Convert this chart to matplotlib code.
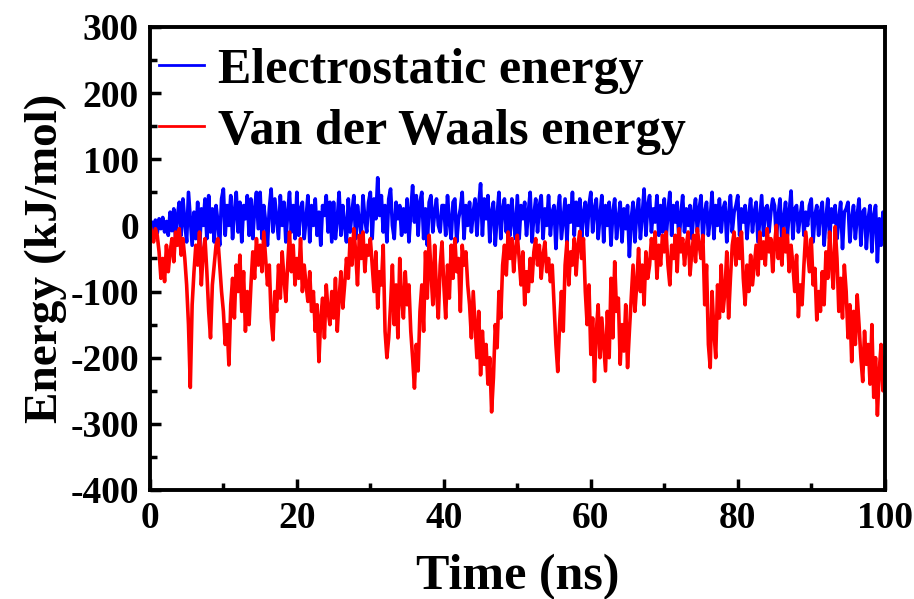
import numpy as np
import matplotlib
matplotlib.use("Agg")
import matplotlib.pyplot as plt
from matplotlib.ticker import MultipleLocator

electrostatic = [
    0, 5, -8, 8, -12, 10, -5, 12, -10, 6, -15, 20, -8, 25, -20, 15, 35, -15, 40, 5,
    -25, 50, 10, -30, 20, -20, 35, -40, 25, 0, 40, -20, 45, -10, 25, -25, 30, 5, -30, 40,
    55, -15, 30, 0, 45, -20, 20, 50, -10, 35, -25, 30, 10, 45, -15, 40, -20, 25, 50, -5,
    50, -20, 30, 5, -30, 25, 55, -10, 40, 10, -20, 45, 0, 35, -25, 20, 50, -10, 30, -20,
    50, -15, 25, 35, -20, 10, 45, -25, 30, 0, 40, -15, 20, -30, 30, 15, 45, -10, 35, -25,
    35, -20, 10, 50, -15, 30, 0, -25, 40, -10, 20, 45, -20, 30, 5, -15, 45, 10, -10, 35,
    50, -20, 40, 10, 72, 15, 45, -10, 30, -25, 40, 55, 0, -20, 35, 10, 30, -15, 25, -10,
    40, -25, 20, 60, 5, 45, -15, 35, 50, -20, 25, -30, 35, 45, -10, 20, 40, 0, -10, 30,
    30, -15, 45, 5, -20, 35, 40, -25, 10, 25, 50, -20, 30, 0, 35, -10, 20, 40, -15, 30,
    63, -15, 40, 10, 45, -25, 20, 35, -30, 15, 50, -20, 25, 40, -10, 30, -15, 40, 5, -20,
    45, -20, 30, 10, 35, -15, 20, 50, -25, 15, 40, -10, 30, 45, -20, 25, 0, 45, -15, 20,
    30, -35, 20, 45, -20, 10, 40, -25, 30, 5, 50, -15, 35, 0, 40, -20, 20, 35, -15, 30,
    50, -10, 25, 40, -20, 15, 45, -25, 30, 0, 35, -30, 20, 40, -20, 10, 35, -25, 25, -5,
    30, -47, 10, 35, -25, 20, 40, -20, 15, 55, -15, 30, 45, -10, 25, 5, 45, -15, 30, -10,
    40, -20, 20, 50, -15, 30, 5, 35, -25, 15, 45, -10, 25, 0, 30, -20, 20, 40, -10, 25,
    45, -25, 20, 35, -15, 10, 50, -20, 30, 0, 40, -10, 25, 35, -25, 15, 45, -10, 20, 30,
    45, -15, 25, 5, 30, -20, 15, 40, -10, 20, 35, -25, 10, 45, -15, 25, 30, -10, 20, 40,
    30, -20, 15, 40, -25, 10, 35, -15, 20, 52, -20, 25, 30, -10, 15, 35, -15, 20, 0, 30,
    40, -25, 15, 30, -15, 20, 35, -30, 10, 40, -20, 25, 5, 30, -20, 10, 35, -35, 20, 25,
    35, -25, 10, 30, -20, 15, 40, -30, 20, 25, -35, 10, 30, -40, 15, 30, -55, 10, -30, 20,
    -20,
]

vdw = [
    0, -10, -25, -5, -15, -40, -80, -50, -85, -30, -70, -40, -20, -55, -10, -30, -5, -45, -20, -50,
    -90, -150, -245, -120, -70, -30, -60, -10, -90, -40, -20, -70, -130, -170, -90, -60, -30, -20, -60, -100,
    -130, -180, -150, -211, -120, -80, -140, -60, -100, -45, -130, -70, -160, -100, -150, -90, -40, -80, -20, -60,
    -30, -70, -10, -50, -90, -60, -140, -173, -100, -130, -60, -110, -40, -80, -115, -60, -10, -70, -30, -90,
    -50, -80, -20, -100, -60, -90, -115, -70, -130, -100, -160, -120, -206, -140, -110, -170, -90, -130, -150, -100,
    -140, -80, -160, -110, -70, -125, -90, -50, -80, -20, -60, -5, -40, -90, -15, -50, -10, -70, -30, -45,
    -20, -60, -100, -40, -125, -70, -90, -30, -160, -200, -170, -120, -60, -150, -90, -170, -50, -110, -140, -70,
    -120, -90, -160, -200, -246, -180, -220, -130, -90, -160, -40, -110, -15, -70, -120, -30, -100, -140, -60, -25,
    -90, -140, -60, -110, -30, -80, -20, -70, -50, -130, -30, -60, -40, -90, -120, -170, -100, -150, -200, -130,
    -226, -160, -210, -180, -240, -200, -282, -230, -150, -185, -100, -140, -60, -30, -75, -10, -50, -20, -70, -35,
    -15, -50, -90, -40, -120, -70, -100, -50, -85, -40, -20, -60, -30, -80, -45, -25, -70, -50, -85, -60,
    -120, -180, -221, -150, -100, -160, -60, -25, -90, -40, -60, -20, -75, -30, -9, -50, -20, -100, -150, -90,
    -195, -140, -236, -160, -120, -200, -140, -180, -220, -130, -200, -80, -170, -55, -130, -110, -210, -150, -190, -120,
    -215, -160, -110, -60, -130, -90, -35, -100, -60, -120, -40, -80, -60, -20, -50, -10, -80, -30, -60, -15,
    -40, -10, -60, -90, -30, -50, -15, -70, -5, -40, -20, -60, -30, -10, -75, -40, -15, -55, -5, -30,
    -50, -15, -120, -60, -180, -215, -100, -160, -200, -90, -140, -60, -130, -100, -40, -140, -80, -30, -10, -60,
    -20, -50, -10, -80, -120, -60, -100, -45, -90, -60, -30, -75, -10, -50, -25, -60, -5, -40, -20, -70,
    -30, 0, -50, -20, -60, -5, -40, -15, -70, -30, -60, -100, -45, -138, -90, -120, -60, -10, -40, -70,
    -20, -90, -65, -143, -100, -130, -70, -120, -40, -80, -10, -60, -95, -2, -50, -130, -80, -140, -60, -100,
    -170, -120, -206, -130, -180, -105, -150, -200, -236, -160, -210, -180, -240, -150, -260, -200, -287, -220, -180, -250,
    -200,
]

labels = ["Electrostatic energy", "Van der Waals energy"]
colors = ["#0000ff", "#ff0000"]

t_elec = np.linspace(0, 100, len(electrostatic))
t_vdw = np.linspace(0, 100, len(vdw))

plt.rcParams['font.family'] = ['Liberation Serif', 'DejaVu Serif']
plt.rcParams['font.weight'] = 'bold'
plt.rcParams['axes.unicode_minus'] = False

fig = plt.figure(figsize=(9.14, 5.99), dpi=100)
ax = fig.add_axes([0.164, 0.182, 0.804, 0.773])

ax.plot(t_elec, electrostatic, color=colors[0], lw=2.6, label=labels[0])
ax.plot(t_vdw, vdw, color=colors[1], lw=2.6, label=labels[1])

ax.set_xlim(0, 100)
ax.set_ylim(-400, 300)
ax.xaxis.set_major_locator(MultipleLocator(20))
ax.xaxis.set_minor_locator(MultipleLocator(10))
ax.yaxis.set_major_locator(MultipleLocator(100))
ax.yaxis.set_minor_locator(MultipleLocator(50))
ax.tick_params(which='both', direction='in', width=2.5, top=False, right=False,
               labelsize=27, pad=8)
ax.tick_params(which='major', length=8)
ax.tick_params(which='minor', length=5)
for lab in ax.get_xticklabels() + ax.get_yticklabels():
    lab.set_fontweight('bold')
for sp in ax.spines.values():
    sp.set_linewidth(2.8)

ax.set_xlabel("Time (ns)", fontsize=36, fontweight='bold', labelpad=13)
ax.set_ylabel("Energy (kJ/mol)", fontsize=34, fontweight='bold', labelpad=2)

leg = ax.legend(loc='upper left', bbox_to_anchor=(0.012, 0.955), frameon=False,
                handlelength=0.9, handletextpad=0.28, labelspacing=0.3,
                borderaxespad=0, borderpad=0, prop={'weight': 'bold', 'size': 36})
for h in leg.get_lines():
    h.set_linewidth(2.0)

fig.savefig("out.png", dpi=100)
